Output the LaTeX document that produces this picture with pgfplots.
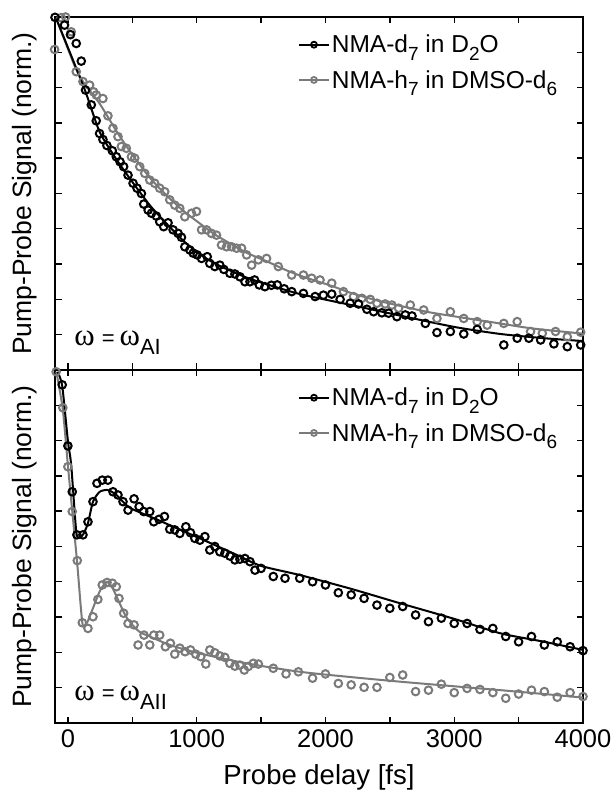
\documentclass[border=0pt]{standalone}
\usepackage{pgfplots}
\pgfplotsset{compat=1.18}
\usepackage{fontspec}
\setmainfont{Liberation Sans}
\newfontfamily\symfont{Liberation Serif}
\definecolor{dgray}{RGB}{122,122,122}
\newcommand{\sub}[1]{\raisebox{-0.3em}{\fontsize{19}{19}\selectfont #1}}
\newcommand{\omlabel}[1]{{\fontsize{31}{31}\selectfont\symfont ω}\hspace{7pt}{\fontsize{22}{22}\selectfont =}\hspace{5pt}{\fontsize{31}{31}\selectfont\symfont ω}\raisebox{-9pt}{\fontsize{22}{22}\selectfont #1}}

\pgfplotsset{
  panel/.style={
    scale only axis, width=528pt, height=353pt,
    xmin=-100, xmax=4000, ymin=0, ymax=10,
    xtick={0,1000,2000,3000,4000},
    minor xtick={500,1500,2500,3500},
    ytick={0,1,...,10},
    yticklabels={},
    major tick length=6.5pt, minor tick length=6.5pt,
    tick style={line width=1.4pt, black},
    axis line style={line width=2pt},
    clip=false,
    /pgf/number format/1000 sep={},
    /pgf/number format/assume math mode=true,
    xticklabel style={font=\fontsize{25.5}{25.5}\selectfont, yshift=-3pt},
    ylabel={Pump-Probe Signal (norm.)},
    ylabel style={font=\fontsize{26.5}{26.5}\selectfont, at={(axis description cs:-0.057,0.5)}, anchor=center},
    legend style={draw=none, fill=none, at={(rel axis cs:0.46,0.955)}, anchor=north west,
      font=\fontsize{24.5}{24.5}\selectfont, inner sep=0pt, row sep=12pt, cells={anchor=west}},
    legend image code/.code={\draw[mark repeat=2,mark phase=2,#1] plot coordinates {(0pt,0pt) (15pt,0pt) (30pt,0pt)};},
    dat/.style={only marks, mark=o, mark size=3.8pt, line width=2pt},
    fit/.style={no marks, line width=2pt, smooth, tension=0.4},
  }
}

\begin{document}
\begin{tikzpicture}
\useasboundingbox (-55pt,-71pt) rectangle (557pt,723pt);

% ---------------- top panel ----------------
\begin{axis}[panel, at={(0pt,353pt)}, anchor=south west, xticklabels={}]
\addlegendimage{black, mark=o, mark size=3pt, line width=1.8pt}
\addlegendentry{NMA-d\sub{7} in D\sub{2}O}
\addlegendimage{dgray, mark=o, mark size=3pt, line width=1.8pt}
\addlegendentry{NMA-h\sub{7} in DMSO-d\sub{6}}

\addplot[dgray, dat] coordinates {
(-103,9.08) (-52,9.98) (-18,10.0) (26,9.58) (65,8.45) (117,8.17) (169,8.07) (200,7.88)
(221,7.79) (272,7.69) (311,7.20) (350,6.85) (389,6.61) (415,6.33) (454,6.28) (493,6.04)
(519,6.00) (558,5.76) (597,5.57) (636,5.38) (674,5.29) (713,5.15) (752,5.05) (791,4.82)
(830,4.67) (869,4.58) (908,4.34) (960,4.44) (999,4.49) (1038,3.97) (1077,3.97) (1115,3.87)
(1154,3.82) (1193,3.54) (1232,3.49) (1271,3.49) (1310,3.45) (1349,3.45) (1388,3.26) (1427,2.97)
(1479,3.12) (1543,3.16) (1634,2.93) (1738,2.69) (1829,2.69) (1893,2.60) (1958,2.55) (2049,2.46)
(2140,2.22) (2218,2.08) (2283,2.03) (2348,2.00) (2400,1.89) (2464,1.87) (2516,1.84) (2568,1.75)
(2659,1.84) (2763,1.70) (2866,1.46) (2970,1.65) (3074,1.46) (3178,1.37) (3256,1.27) (3385,1.32)
(3489,1.37) (3593,1.09) (3684,1.04) (3787,1.09) (3878,0.94) (3982,1.07)
};
\addplot[dgray, fit] coordinates {
(-91,9.96) (0,9.1) (60,8.55) (130,8.1) (246,7.55) (380,6.75) (500,6.1) (636,5.45) (765,4.95)
(900,4.5) (1025,4.15) (1150,3.82) (1300,3.5) (1400,3.3) (1543,3.08) (1700,2.82) (1829,2.64)
(2049,2.38) (2200,2.18) (2400,1.97) (2600,1.8) (2800,1.64) (3000,1.52) (3300,1.35) (3600,1.18) (4000,1.03)
};
\addplot[black, dat] coordinates {
(-100,9.99) (-26,9.77) (20,9.5) (65,9.25) (104,8.75) (137,7.93) (182,7.51) (220,7.06)
(246,6.70) (272,6.53) (303,6.36) (345,6.21) (376,6.04) (405,5.90) (433,5.76) (467,5.52)
(506,5.29) (537,5.15) (571,5.00) (589,4.70) (623,4.53) (649,4.44) (687,4.36) (713,4.20)
(744,4.06) (778,4.17) (817,3.97) (856,3.87) (882,3.76) (908,3.49) (947,3.40) (973,3.31)
(1004,3.26) (1038,3.16) (1082,3.21) (1102,3.02) (1141,2.93) (1180,2.97) (1211,2.85) (1258,2.74)
(1297,2.72) (1336,2.64) (1375,2.50) (1414,2.50) (1450,2.55) (1486,2.41) (1530,2.36) (1580,2.40)
(1626,2.41) (1680,2.30) (1738,2.22) (1829,2.17) (1920,2.08) (1984,2.12) (2049,2.15) (2114,2.00)
(2192,1.89) (2257,1.87) (2322,1.72) (2374,1.65) (2438,1.62) (2490,1.61) (2555,1.51) (2620,1.56)
(2672,1.53) (2776,1.32) (2866,1.06) (2970,1.09) (3074,1.02) (3178,1.15) (3385,0.71) (3489,0.90)
(3580,0.90) (3671,0.85) (3774,0.74) (3878,0.66) (3982,0.71)
};
\addplot[black, fit] coordinates {
(-91,9.96) (130,7.95) (246,6.75) (380,5.95) (506,5.3) (640,4.65) (765,4.15) (900,3.65) (1025,3.28)
(1150,3.0) (1284,2.78) (1400,2.6) (1543,2.43) (1803,2.15) (2200,1.84) (2581,1.54) (3000,1.22)
(3359,1.02) (3700,0.9) (4000,0.82)
};
\node[anchor=base west] at (rel axis cs:0.03,0.068) {\omlabel{AI}};
\end{axis}

% ---------------- bottom panel ----------------
\begin{axis}[panel, at={(0pt,0pt)}, anchor=south west,
  xlabel={Probe delay [fs]},
  xlabel style={font=\fontsize{27.5}{27.5}\selectfont, at={(axis description cs:0.5,-0.154)}, anchor=center}]
\addlegendimage{black, mark=o, mark size=3pt, line width=1.8pt}
\addlegendentry{NMA-d\sub{7} in D\sub{2}O}
\addlegendimage{dgray, mark=o, mark size=3pt, line width=1.8pt}
\addlegendentry{NMA-h\sub{7} in DMSO-d\sub{6}}

\addplot[dgray, dat] coordinates {
(-91,9.95) (-39,8.93) (0,7.26) (34,5.99) (73,4.60) (112,2.84) (156,2.68) (195,3.01)
(233,3.50) (267,3.91) (304,3.98) (345,3.96) (376,3.86) (397,3.53) (433,3.11) (467,2.82)
(514,2.78) (545,2.21) (591,2.49) (636,2.21) (667,2.49) (713,2.49) (757,2.16) (796,2.26)
(830,1.95) (869,2.12) (910,2.02) (952,2.07) (993,1.95) (1032,1.88) (1071,1.67) (1102,2.07)
(1141,1.99) (1180,1.90) (1219,1.86) (1258,1.69) (1297,1.61) (1336,1.64) (1370,1.50) (1401,1.60)
(1440,1.69) (1479,1.67) (1595,1.55) (1694,1.39) (1790,1.45) (1900,1.27) (2000,1.39) (2100,1.12)
(2200,1.08) (2300,1.01) (2400,1.01) (2500,1.29) (2600,1.36) (2700,0.89) (2800,0.93) (2900,1.10)
(3000,0.86) (3100,0.98) (3200,0.95) (3300,0.86) (3400,0.70) (3500,0.82) (3600,0.93) (3700,0.89)
(3800,0.73) (3900,0.86) (4000,0.75)
};
\addplot[dgray, fit] coordinates {
(-90,9.95) (-40,8.9) (0,7.3) (34,6.0) (73,4.5) (100,3.3) (117,2.75) (150,2.85) (200,3.3)
(250,3.75) (304,4.0) (350,3.8) (454,3.0) (550,2.6) (636,2.45) (800,2.2) (1025,1.97) (1400,1.68)
(1803,1.45) (2200,1.3) (2581,1.17) (3000,1.04) (3359,0.93) (3700,0.82) (4000,0.72)
};
\addplot[black, dat] coordinates {
(-44,9.58) (0,7.85) (34,6.55) (70,5.33) (117,5.33) (156,5.70) (195,6.27) (226,6.79)
(267,6.88) (311,6.88) (350,6.55) (389,6.46) (428,6.27) (467,6.03) (514,6.35) (553,6.13)
(589,5.99) (636,5.99) (667,5.70) (708,5.77) (750,5.85) (791,5.49) (830,5.47) (869,5.37)
(916,5.56) (952,5.39) (986,5.23) (1025,5.18) (1064,5.28) (1102,4.90) (1141,5.00) (1180,4.85)
(1219,4.81) (1258,4.73) (1297,4.62) (1336,4.64) (1375,4.66) (1414,4.57) (1453,4.33) (1500,4.38)
(1595,4.15) (1686,4.10) (1800,4.10) (1900,4.00) (2000,3.91) (2100,3.69) (2200,3.63) (2300,3.53)
(2400,3.34) (2500,3.25) (2600,3.30) (2700,3.06) (2800,2.87) (2900,2.97) (3000,2.82) (3100,2.82)
(3200,2.65) (3300,2.68) (3400,2.45) (3500,2.30) (3600,2.45) (3700,2.21) (3800,2.30) (3900,2.16)
(4000,2.05)
};
\addplot[black, fit] coordinates {
(-80,9.95) (-44,9.55) (0,8.0) (26,7.3) (65,5.42) (91,5.25) (120,5.35) (156,5.66) (195,6.27)
(247,6.55) (311,6.6) (377,6.46) (480,6.1) (700,5.75) (1025,5.23) (1300,4.78) (1500,4.45)
(1803,4.19) (2200,3.8) (2581,3.39) (3000,2.95) (3359,2.54) (3700,2.3) (4000,2.07)
};
\node[anchor=base west] at (rel axis cs:0.03,0.063) {\omlabel{AII}};
\end{axis}
\end{tikzpicture}
\end{document}
